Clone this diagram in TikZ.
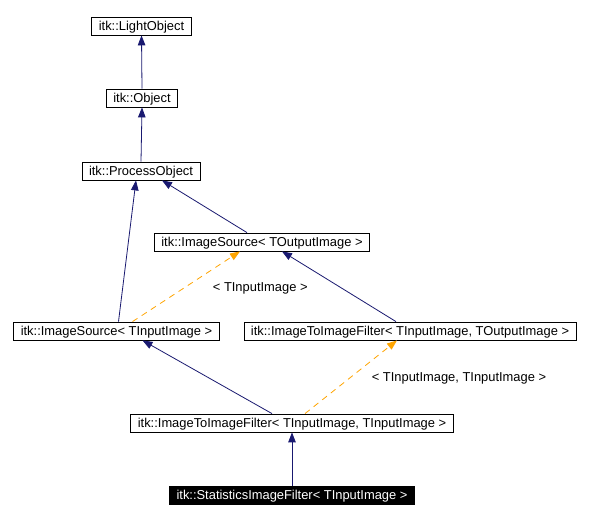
\documentclass[tikz,border=0pt]{standalone}
\usepackage{fontspec}
\setmainfont{Liberation Sans}
\usetikzlibrary{arrows.meta}
\definecolor{edgeblue}{HTML}{191970}
\definecolor{tmplorange}{HTML}{FFA500}
\begin{document}
\begin{tikzpicture}[x=1pt,y=-1pt,
 cls/.style={draw=black, line width=0.8pt, fill=white, minimum height=18pt, inner xsep=7pt, inner ysep=0pt, text height=11pt, text depth=1pt, font=\fontsize{12.9}{14}\selectfont},
 cur/.style={cls, fill=black, text=white},
 inh/.style={draw=edgeblue, line width=0.8pt, -{Triangle[length=10pt,width=7.5pt]}},
 tmpl/.style={draw=tmplorange, line width=0.8pt, dash pattern=on 6pt off 5pt, -{Triangle[length=10pt,width=7.5pt]}},
 lbl/.style={font=\fontsize{12.9}{14}\selectfont}]
\useasboundingbox (0,0) rectangle (590,518);
\fill[white] (0,0) rectangle (590,518);
\node[cls] (light) at (141.5,26) {itk::LightObject};
\node[cls] (obj) at (142,98) {itk::Object};
\node[cls] (proc) at (141,171) {itk::ProcessObject};
\node[cls] (srcout) at (262,242) {itk::ImageSource< TOutputImage >};
\node[cls] (srcin) at (116.5,331) {itk::ImageSource< TInputImage >};
\node[cls] (ftout) at (410,331) {itk::ImageToImageFilter< TInputImage, TOutputImage >};
\node[cls] (ftin) at (292,423) {itk::ImageToImageFilter< TInputImage, TInputImage >};
\node[cur] (stats) at (292,495) {itk::StatisticsImageFilter< TInputImage >};

\draw[inh] (obj.north) -- (light.south);
\draw[inh] (proc.north) -- (obj.south);
\draw[inh] ([xshift=-15pt]srcout.north) -- ([xshift=21pt]proc.south);
\draw[inh] ([xshift=2pt]srcin.north) -- ([xshift=-5pt]proc.south);
\draw[inh] ([xshift=-14pt]ftout.north) -- ([xshift=20pt]srcout.south);
\draw[tmpl] ([xshift=16pt]srcin.north) -- ([xshift=-22pt]srcout.south)
  node[lbl, pos=0.5, xshift=74pt, yshift=-2pt] (l1) {< TInputImage >};
\draw[inh] ([xshift=-20pt]ftin.north) -- ([xshift=26pt]srcin.south);
\draw[tmpl] ([xshift=13pt]ftin.north) -- ([xshift=-13pt]ftout.south)
  node[lbl, pos=0.5, xshift=108pt, yshift=-1pt] (l2) {< TInputImage, TInputImage >};
\draw[inh] (stats.north) -- (ftin.south);
\end{tikzpicture}
\end{document}
